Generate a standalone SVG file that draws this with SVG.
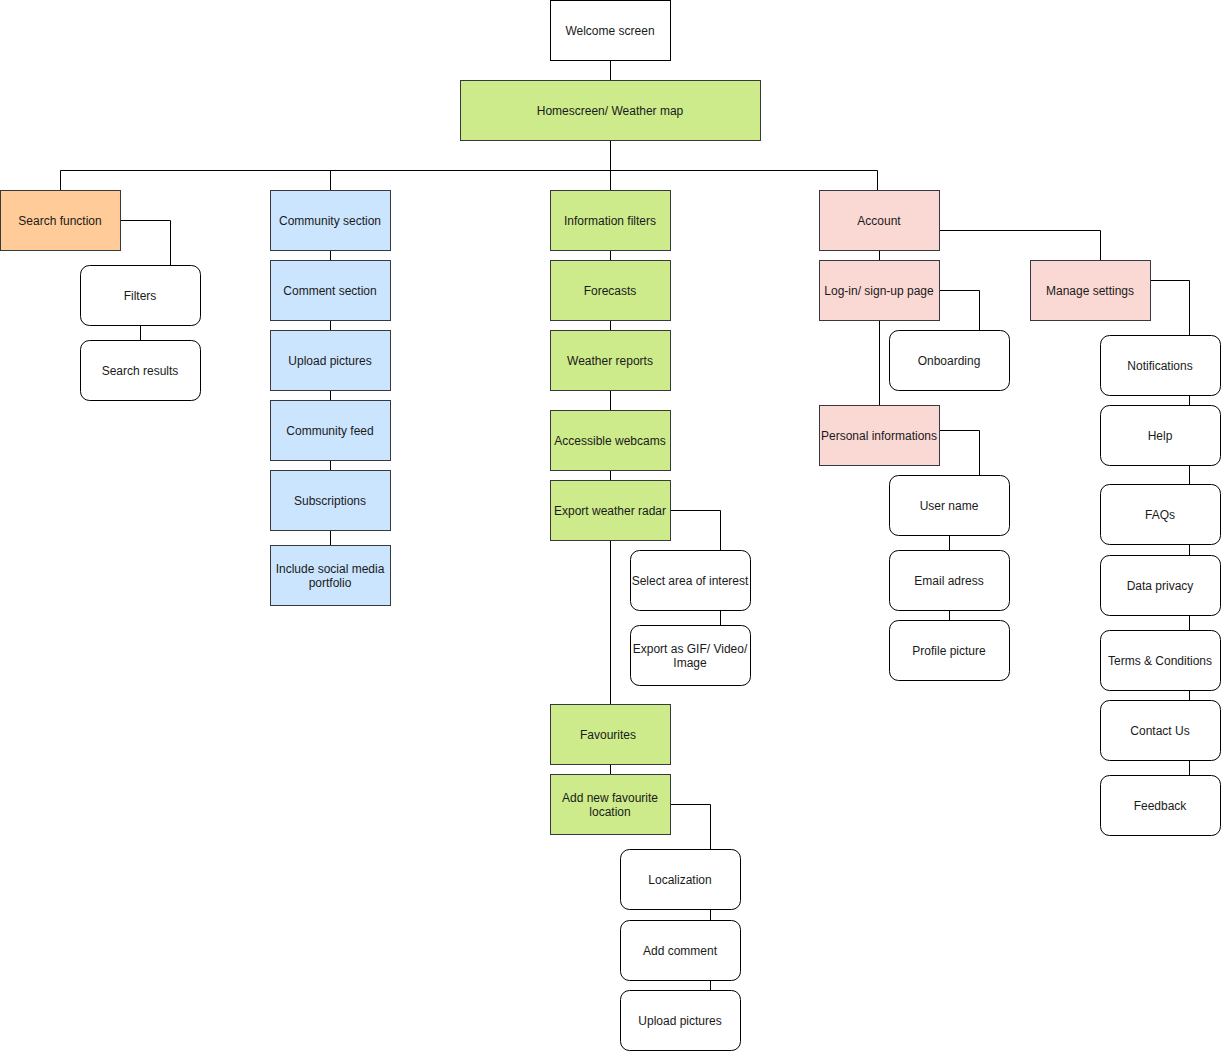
<svg xmlns="http://www.w3.org/2000/svg" width="1221" height="1051" viewBox="0 0 1221 1051">
<style>
.n rect{stroke:#000;stroke-width:1}
.w rect{fill:#fff}
.r rect{fill:#fff}
.g rect{fill:#cdeb8b;stroke:#36393d}
.b rect{fill:#cce5ff;stroke:#36393d}
.o rect{fill:#ffcc99;stroke:#36393d}
.p rect{fill:#fad9d5;stroke:#36393d}
text{font-family:"Liberation Sans",Arial,Helvetica,sans-serif;font-size:12px;fill:#1a1a1a;text-anchor:middle;dominant-baseline:central;transform:translateY(1px)}
.c path{fill:none;stroke:#000;stroke-width:1}
</style>
<rect width="1221" height="1051" fill="#fff"/>
<g class="c">
<path d="M610.5 60V80"/>
<path d="M610.5 140V170.5M60.5 190V170.5H877.5V190M330.5 170.5V190M610.5 170.5V190"/>
<path d="M120 220.5H170.5V265"/>
<path d="M140.5 325V340"/>
<path d="M330.5 250V260M330.5 320V330M330.5 390V400M330.5 460V470M330.5 530V545"/>
<path d="M610.5 250V260M610.5 320V330M610.5 390V410M610.5 470V480M610.5 540V704M610.5 764V774"/>
<path d="M670 510.5H720.5V550M720.5 610V625"/>
<path d="M670 804.5H710.5V849M710.5 909V920M710.5 980V990"/>
<path d="M879.5 250V260M939 230.5H1100.5V260"/>
<path d="M939 290.5H979.5V330"/>
<path d="M879.5 320V405"/>
<path d="M939 430.5H979.5V475M949.5 535V550M949.5 610V620"/>
<path d="M1150 280.5H1189.5V335M1189.5 395V405M1189.5 465V484M1189.5 544V555M1189.5 615V630M1189.5 690V700M1189.5 760V775"/>
</g>
<g id="welcome" class="n w"><rect x="550.5" y="0.5" width="120" height="60"/><text x="610" y="30">Welcome screen</text></g>
<g id="home" class="n g"><rect x="460.5" y="80.5" width="300" height="60"/><text x="610" y="110">Homescreen/ Weather map</text></g>
<g id="search" class="n o"><rect x="0.5" y="190.5" width="120" height="60"/><text x="60" y="220">Search function</text></g>
<g id="filters" class="n r"><rect x="80.5" y="265.5" width="120" height="60" rx="9"/><text x="140" y="295">Filters</text></g>
<g id="searchresults" class="n r"><rect x="80.5" y="340.5" width="120" height="60" rx="9"/><text x="140" y="370">Search results</text></g>
<g id="community" class="n b"><rect x="270.5" y="190.5" width="120" height="60"/><text x="330" y="220">Community section</text></g>
<g id="comment" class="n b"><rect x="270.5" y="260.5" width="120" height="60"/><text x="330" y="290">Comment section</text></g>
<g id="upload1" class="n b"><rect x="270.5" y="330.5" width="120" height="60"/><text x="330" y="360">Upload pictures</text></g>
<g id="feed" class="n b"><rect x="270.5" y="400.5" width="120" height="60"/><text x="330" y="430">Community feed</text></g>
<g id="subs" class="n b"><rect x="270.5" y="470.5" width="120" height="60"/><text x="330" y="500">Subscriptions</text></g>
<g id="social" class="n b"><rect x="270.5" y="545.5" width="120" height="60"/><text x="330" y="568">Include social media</text><text x="330" y="582">portfolio</text></g>
<g id="infofilters" class="n g"><rect x="550.5" y="190.5" width="120" height="60"/><text x="610" y="220">Information filters</text></g>
<g id="forecasts" class="n g"><rect x="550.5" y="260.5" width="120" height="60"/><text x="610" y="290">Forecasts</text></g>
<g id="reports" class="n g"><rect x="550.5" y="330.5" width="120" height="60"/><text x="610" y="360">Weather reports</text></g>
<g id="webcams" class="n g"><rect x="550.5" y="410.5" width="120" height="60"/><text x="610" y="440">Accessible webcams</text></g>
<g id="radar" class="n g"><rect x="550.5" y="480.5" width="120" height="60"/><text x="610" y="510">Export weather radar</text></g>
<g id="area" class="n r"><rect x="630.5" y="550.5" width="120" height="60" rx="9"/><text x="690" y="580">Select area of interest</text></g>
<g id="exportgif" class="n r"><rect x="630.5" y="625.5" width="120" height="60" rx="9"/><text x="690" y="648">Export as GIF/ Video/</text><text x="690" y="662">Image</text></g>
<g id="favourites" class="n g"><rect x="550.5" y="704.5" width="120" height="60"/><text x="608" y="734">Favourites</text></g>
<g id="addfav" class="n g"><rect x="550.5" y="774.5" width="120" height="60"/><text x="610" y="797">Add new favourite</text><text x="610" y="811">location</text></g>
<g id="local" class="n r"><rect x="620.5" y="849.5" width="120" height="60" rx="9"/><text x="680" y="879">Localization</text></g>
<g id="addcomment" class="n r"><rect x="620.5" y="920.5" width="120" height="60" rx="9"/><text x="680" y="950">Add comment</text></g>
<g id="upload2" class="n r"><rect x="620.5" y="990.5" width="120" height="60" rx="9"/><text x="680" y="1020">Upload pictures</text></g>
<g id="account" class="n p"><rect x="819.5" y="190.5" width="120" height="60"/><text x="879" y="220">Account</text></g>
<g id="login" class="n p"><rect x="819.5" y="260.5" width="120" height="60"/><text x="879" y="290">Log-in/ sign-up page</text></g>
<g id="onboarding" class="n r"><rect x="889.5" y="330.5" width="120" height="60" rx="9"/><text x="949" y="360">Onboarding</text></g>
<g id="personal" class="n p"><rect x="819.5" y="405.5" width="120" height="60"/><text x="879" y="435">Personal informations</text></g>
<g id="username" class="n r"><rect x="889.5" y="475.5" width="120" height="60" rx="9"/><text x="949" y="505">User name</text></g>
<g id="email" class="n r"><rect x="889.5" y="550.5" width="120" height="60" rx="9"/><text x="949" y="580">Email adress</text></g>
<g id="profile" class="n r"><rect x="889.5" y="620.5" width="120" height="60" rx="9"/><text x="949" y="650">Profile picture</text></g>
<g id="settings" class="n p"><rect x="1030.5" y="260.5" width="120" height="60"/><text x="1090" y="290">Manage settings</text></g>
<g id="notif" class="n r"><rect x="1100.5" y="335.5" width="120" height="60" rx="9"/><text x="1160" y="365">Notifications</text></g>
<g id="help" class="n r"><rect x="1100.5" y="405.5" width="120" height="60" rx="9"/><text x="1160" y="435">Help</text></g>
<g id="faqs" class="n r"><rect x="1100.5" y="484.5" width="120" height="60" rx="9"/><text x="1160" y="514">FAQs</text></g>
<g id="privacy" class="n r"><rect x="1100.5" y="555.5" width="120" height="60" rx="9"/><text x="1160" y="585">Data privacy</text></g>
<g id="terms" class="n r"><rect x="1100.5" y="630.5" width="120" height="60" rx="9"/><text x="1160" y="660">Terms &amp; Conditions</text></g>
<g id="contact" class="n r"><rect x="1100.5" y="700.5" width="120" height="60" rx="9"/><text x="1160" y="730">Contact Us</text></g>
<g id="feedback" class="n r"><rect x="1100.5" y="775.5" width="120" height="60" rx="9"/><text x="1160" y="805">Feedback</text></g>
</svg>
